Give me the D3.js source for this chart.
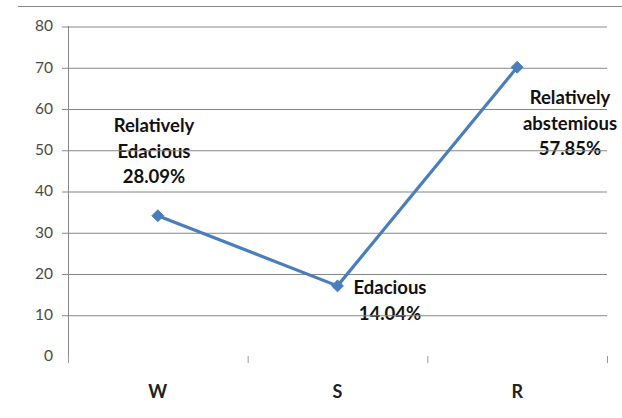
<!DOCTYPE html>
<html>
<head>
<meta charset="utf-8">
<script src="https://cdn.jsdelivr.net/npm/d3@7"></script>
<style>
  html, body { margin: 0; padding: 0; background: #fff; }
  svg { display: block; }
</style>
</head>
<body>
<svg id="chart" width="622" height="418"></svg>
<script>
// Category groups and their values
const categories = ["W", "S", "R"];
const values = [34, 17, 70];
// Point annotations (lines of text per point)
const pointLabels = [
  ["Relatively", "Edacious", "28.09%"],
  ["Edacious", "14.04%"],
  ["Relatively", "abstemious", "57.85%"]
];
const yTicks = [0, 10, 20, 30, 40, 50, 60, 70, 80];

const svg = d3.select("#chart");
const plotL = 68, plotR = 607, plotT = 26, plotB = 356;

const x = d3.scaleBand().domain(categories).range([plotL, plotR]).padding(0);
const y = d3.scaleLinear().domain([0, 80]).range([plotB, plotT]);
const cx = d => x(d) + x.bandwidth() / 2;

// rule across the top of the figure
svg.append("line")
  .attr("x1", 18).attr("x2", 622).attr("y1", 6.5).attr("y2", 6.5)
  .attr("stroke", "#8a8a8a").attr("stroke-width", 1.2);

const font = "Lato, 'Open Sans', sans-serif";

// annotations (drawn below the gridlines)
const labelPos = [
  { x: 154, y: 132 },
  { x: 390, y: 294 },
  { x: 570, y: 104 }
];
const ann = svg.append("g");
pointLabels.forEach((lines, i) => {
  const t = ann.append("text")
    .attr("x", labelPos[i].x).attr("y", labelPos[i].y)
    .attr("text-anchor", "middle")
    .attr("font-family", font).attr("font-weight", "bold")
    .attr("font-size", 18.5).attr("fill", "#111");
  lines.forEach((s, j) => {
    t.append("tspan").attr("x", labelPos[i].x).attr("dy", j === 0 ? 0 : 25.5).text(s);
  });
});

// y axis with gridlines
const yAxis = d3.axisLeft(y).tickValues(yTicks).tickSize(-(plotR - plotL) - 6).tickPadding(10);
const gy = svg.append("g").attr("transform", `translate(${plotL - 6},0)`).call(yAxis);
gy.select(".domain").remove();
gy.selectAll(".tick line")
  .attr("stroke", "#878787").attr("stroke-width", 1)
  .attr("transform", "translate(0,0.5)");
gy.selectAll(".tick line").filter(d => d === 0).remove();
gy.selectAll(".tick text")
  .attr("font-family", font).attr("font-size", 15.5).attr("fill", "#4a4a4a")
  .attr("x", -9);

// vertical axis line
svg.append("line")
  .attr("x1", plotL + 0.5).attr("x2", plotL + 0.5).attr("y1", plotT).attr("y2", plotB + 7)
  .attr("stroke", "#878787").attr("stroke-width", 1);

// x axis: ticks at category boundaries, labels centred
const xTickPos = [plotL].concat(categories.map(c => x(c) + x.bandwidth()));
const gx = svg.append("g");
gx.selectAll("line.xt").data(xTickPos).join("line")
  .attr("class", "xt")
  .attr("x1", d => d + 0.5).attr("x2", d => d + 0.5)
  .attr("y1", plotB).attr("y2", plotB + 7)
  .attr("stroke", "#9a9a9a").attr("stroke-width", 1);
gx.selectAll("text").data(categories).join("text")
  .attr("x", d => cx(d)).attr("y", 398)
  .attr("text-anchor", "middle")
  .attr("font-family", font).attr("font-weight", "bold").attr("font-size", 18)
  .attr("fill", "#222").text(d => d);

// series line
const pts = categories.map((c, i) => [cx(c), y(values[i])]);
svg.append("path")
  .attr("d", d3.line()(pts))
  .attr("fill", "none").attr("stroke", "#4a7ebb").attr("stroke-width", 3.2)
  .attr("stroke-linejoin", "round");

// diamond markers
svg.selectAll("path.m").data(pts).join("path")
  .attr("class", "m")
  .attr("d", d3.symbol().type(d3.symbolDiamond2).size(90))
  .attr("transform", d => `translate(${d[0]},${d[1]})`)
  .attr("fill", "#4a7ebb").attr("stroke", "#4a7ebb").attr("stroke-width", 1);
</script>
</body>
</html>
